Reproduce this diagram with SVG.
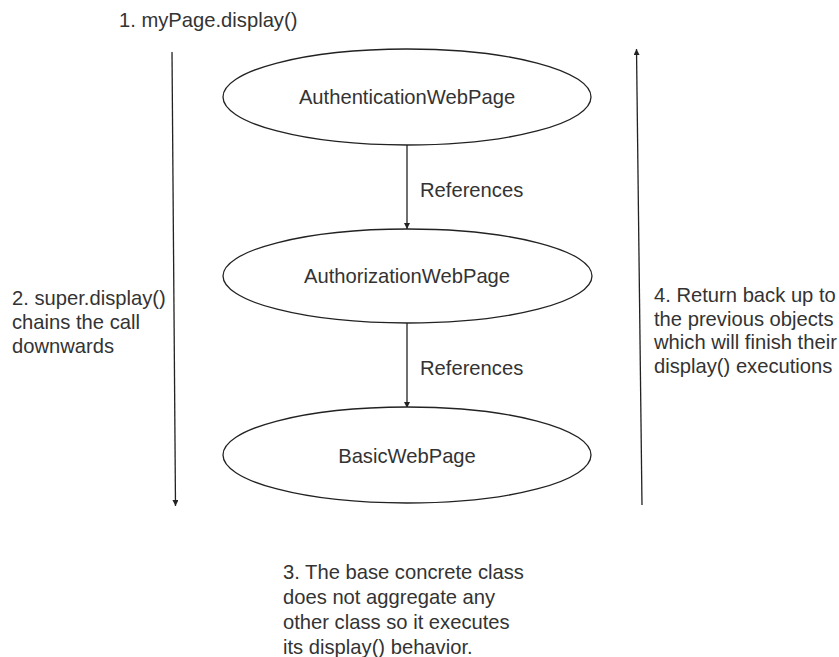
<svg xmlns="http://www.w3.org/2000/svg" width="839" height="657" viewBox="0 0 839 657">
<defs>
<style>
text{font-family:"Liberation Sans",Arial,sans-serif;font-size:20.2px;fill:#333333}
.node ellipse{fill:#ffffff;stroke:#222222;stroke-width:1.3}
.c{stroke:#222222;stroke-width:1.3;fill:none}
.mid{text-anchor:middle}
</style>
<marker id="ah" viewBox="0 0 10 10" refX="10" refY="5" markerWidth="6" markerHeight="6" markerUnits="userSpaceOnUse" orient="auto">
<path d="M0,0 L10,5 L0,10 z" fill="#222222"/>
</marker>
</defs>
<rect width="839" height="657" fill="#ffffff"/>
<g id="connectors">
<line class="c" x1="172" y1="52" x2="175.5" y2="506" marker-end="url(#ah)"/>
<line class="c" x1="642" y1="505" x2="636.5" y2="49" marker-end="url(#ah)"/>
<line class="c" x1="407" y1="145" x2="407" y2="229" marker-end="url(#ah)"/>
<line class="c" x1="407" y1="323" x2="407" y2="408" marker-end="url(#ah)"/>
<text x="420" y="197">References</text>
<text x="420" y="375">References</text>
</g>
<g id="node-authentication" class="node">
<ellipse cx="407" cy="97" rx="184" ry="48"/>
<text class="mid" x="407" y="103.5">AuthenticationWebPage</text>
</g>
<g id="node-authorization" class="node">
<ellipse cx="407.5" cy="276" rx="184.5" ry="47"/>
<text class="mid" x="407" y="283">AuthorizationWebPage</text>
</g>
<g id="node-basic" class="node">
<ellipse cx="407" cy="455" rx="184" ry="48"/>
<text class="mid" x="407" y="463">BasicWebPage</text>
</g>
<g id="annotations">
<text x="119" y="27">1. myPage.display()</text>
<text x="12" y="304.5">2. super.display()</text>
<text x="12" y="328.5">chains the call</text>
<text x="12" y="352.5">downwards</text>
<text x="654" y="302">4. Return back up to</text>
<text x="654" y="325.5">the previous objects</text>
<text x="654" y="349">which will finish their</text>
<text x="654" y="372.5">display() executions</text>
<text x="283" y="579">3. The base concrete class</text>
<text x="283" y="604">does not aggregate any</text>
<text x="283" y="629">other class so it executes</text>
<text x="283" y="654">its display() behavior.</text>
</g>
</svg>
